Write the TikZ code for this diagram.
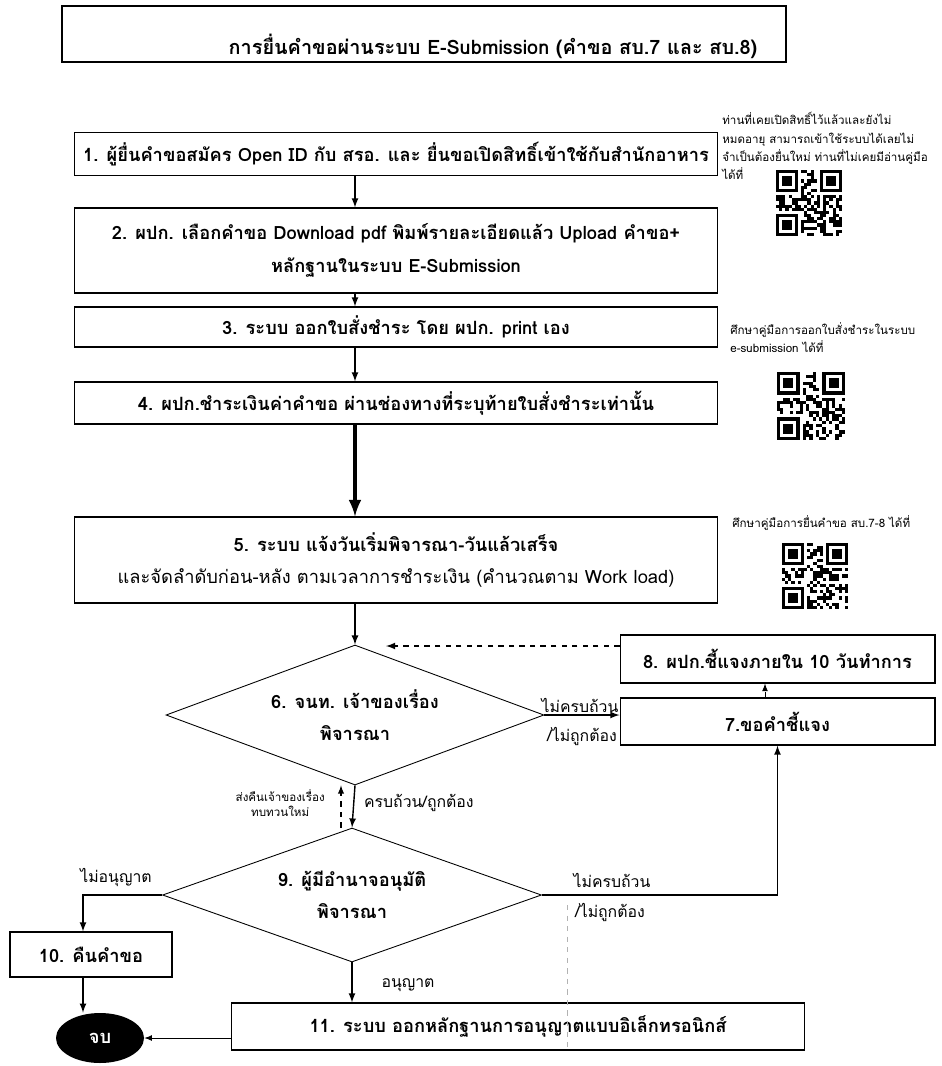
\documentclass[tikz,border=0pt]{standalone}
\usepackage{fontspec}
\newfontfamily\thaifont[Script=Thai]{Loma}
\usetikzlibrary{shapes.geometric}

% fake qr patch: x, y, size, seed
\newcommand{\qrpatch}[4]{%
 \pgfmathsetseed{#4}
 \begin{scope}[shift={(#1,#2)}]
 \pgfmathsetmacro{\qrc}{#3/21}
 \foreach \i in {0,...,20}{
  \foreach \j in {0,...,20}{
   \pgfmathtruncatemacro{\qrbit}{rnd>0.5}
   \ifnum\qrbit=1 \fill (\i*\qrc,\j*\qrc) rectangle ++(\qrc,\qrc);\fi
  }
 }
 \foreach \fx/\fy/\wx/\wy in {0/0/0/0,14/0/13/0,0/14/0/13}{
  \fill[white] (\wx*\qrc,\wy*\qrc) rectangle ++(8*\qrc,8*\qrc);
  \fill (\fx*\qrc,\fy*\qrc) rectangle ++(7*\qrc,7*\qrc);
  \fill[white] ({(\fx+1)*\qrc},{(\fy+1)*\qrc}) rectangle ++(5*\qrc,5*\qrc);
  \fill ({(\fx+2)*\qrc},{(\fy+2)*\qrc}) rectangle ++(3*\qrc,3*\qrc);
 }
 \end{scope}
}

\begin{document}
\begin{tikzpicture}[x=0.02cm,y=-0.02cm,
	stepbox/.style={draw,line width=0.6pt,align=center,inner sep=0pt,font=\thaifont\bfseries\fontsize{10.4}{18.5}\selectfont},
	decide/.style={draw,diamond,line width=0.5pt,align=center,inner sep=0pt,aspect=2.7,font=\thaifont\bfseries\fontsize{10.4}{18.5}\selectfont},
	lbl/.style={font=\thaifont\fontsize{9}{11}\selectfont,inner sep=1pt},
	note/.style={font=\thaifont\fontsize{6.6}{10.5}\selectfont,align=left,inner sep=0pt,anchor=north west},
	arr/.style={line width=0.8pt,-latex}]
	\useasboundingbox (0,0) rectangle (942,1066);
	%title
	\node[draw,line width=1pt,minimum width=14.48cm,minimum height=1.12cm,inner sep=0pt] (titlebox) at (424,34) {};
	\node[font=\thaifont\bfseries\fontsize{11.3}{14}\selectfont] (title) at (493,46) {การยื่นคำขอผ่านระบบ E-Submission (คำขอ สบ.7 และ สบ.8)};
	%steps
	\node[stepbox,minimum width=12.88cm,minimum height=0.86cm] (b1) at (396,154) {1. ผู้ยื่นคำขอสมัคร Open ID กับ สรอ. และ ยื่นขอเปิดสิทธิ์เข้าใช้กับสำนักอาหาร};
	\node[stepbox,minimum width=12.88cm,minimum height=1.7cm] (b2) at (396,250.5) {2. ผปก. เลือกคำขอ Download pdf พิมพ์รายละเอียดแล้ว Upload คำขอ+\\หลักฐานในระบบ E-Submission};
	\node[stepbox,minimum width=12.88cm,minimum height=0.8cm] (b3) at (396,327) {3. ระบบ ออกใบสั่งชำระ โดย ผปก. print เอง};
	\node[stepbox,minimum width=12.88cm,minimum height=0.84cm] (b4) at (396,403) {4. ผปก.ชำระเงินค่าคำขอ ผ่านช่องทางที่ระบุท้ายใบสั่งชำระเท่านั้น};
	\node[stepbox,minimum width=12.88cm,minimum height=1.72cm] (b5) at (396,560) {5. ระบบ แจ้งวันเริ่มพิจารณา-วันแล้วเสร็จ\\{\mdseries และจัดลำดับก่อน-หลัง ตามเวลาการชำระเงิน (คำนวณตาม Work load)}};
	\node[decide,minimum width=7.56cm,minimum height=2.8cm] (d6) at (355,715) {6. จนท. เจ้าของเรื่อง\\พิจารณา};
	\node[stepbox,minimum width=6.3cm,minimum height=0.96cm] (b8) at (777.5,659) {8. ผปก.ชี้แจงภายใน 10 วันทำการ};
	\node[stepbox,minimum width=6.3cm,minimum height=0.94cm] (b7) at (777.5,721.5) {7.ขอคำชี้แจง};
	\node[decide,minimum width=7.58cm,minimum height=2.68cm] (d9) at (352,895) {9. ผู้มีอำนาจอนุมัติ\\พิจารณา};
	\node[stepbox,minimum width=3.24cm,minimum height=0.9cm] (b10) at (91,954.5) {10. คืนคำขอ};
	\node[stepbox,minimum width=11.48cm,minimum height=0.94cm] (b11) at (518,1026.5) {11. ระบบ ออกหลักฐานการอนุญาตแบบอิเล็กทรอนิกส์};
	\node[ellipse,fill=black,text=white,minimum width=1.76cm,minimum height=1cm,inner sep=0pt,font=\thaifont\bfseries\fontsize{10.4}{13}\selectfont] (fin) at (100,1038) {จบ};
	%main flow
	\coordinate (col) at (355,0);
	\draw[arr] (b1.south -| col) -- (b2.north -| col);
	\draw[arr] (b2.south -| col) -- (b3.north -| col);
	\draw[arr] (b3.south -| col) -- (b4.north -| col);
	\draw[line width=2.2pt,-latex] (b4.south -| col) -- (b5.north -| col);
	\draw[arr] (b5.south -| col) -- (d6.north);
	%clarify loop
	\draw[arr] (d6.east) -- (d6.east -| b7.west);
	\node[lbl] (n6a) at (580,705) {ไม่ครบถ้วน};
	\node[lbl] (n6b) at (582,736) {/ไม่ถูกต้อง};
	\coordinate (ask) at (765,0);
	\draw[line width=0.5pt,densely dashed,-latex] (b7.north -| ask) -- (b8.south -| ask);
	\coordinate (back) at (386,646);
	\draw[arr,dashed] (back -| b8.west) -- (back);
	%between 6 and 9
	\draw[arr] (d6.south) -- (d9.north);
	\node[lbl,anchor=west] (n6c) at (362,803) {ครบถ้วน/ถูกต้อง};
	\coordinate (ret) at (341,0);
	\draw[line width=0.6pt,dashed,-latex] (ret |- d9.north) -- (ret |- d6.south);
	\node[font=\thaifont\fontsize{6.6}{9}\selectfont,align=center,anchor=east] (retlbl) at (331,803) {ส่งคืนเจ้าของเรื่อง\\ทบทวนใหม่};
	%decision 9
	\coordinate (rej) at (83,0);
	\draw[arr] (d9.west) -- (d9.west -| rej) -- (rej |- b10.north);
	\node[lbl] (n9c) at (116,877) {ไม่อนุญาต};
	\draw[arr] (d9.east) -| (b7.south);
	\node[lbl] (n9a) at (612,880) {ไม่ครบถ้วน};
	\node[lbl] (n9b) at (610,912) {/ไม่ถูกต้อง};
	\draw[arr] (d9.south) -- (d9.south |- b11.north);
	\node[lbl] (n9d) at (408,985) {อนุญาต};
	%end
	\draw[arr] (b10.south -| rej) -- (rej |- fin.north);
	\draw[line width=0.5pt,-latex] (fin.east -| b11.west) -- (fin.east);
	\draw[gray!60,dashed,line width=0.4pt] (567,905) -- (567,1050);
	%notes
	\node[note] (note1) at (722,112) {ท่านที่เคยเปิดสิทธิ์ไว้แล้วและยังไม่\\หมดอายุ สามารถเข้าใช้ระบบได้เลยไม่\\จำเป็นต้องยื่นใหม่ ท่านที่ไม่เคยมีอ่านคู่มือ\\ได้ที่};
	\qrpatch{776}{170}{66}{3}
	\node[note] (note2) at (730,322) {ศึกษาคู่มือการออกใบสั่งชำระในระบบ\\e-submission ได้ที่};
	\qrpatch{777}{372}{68}{5}
	\node[note] (note3) at (732,515) {ศึกษาคู่มือการยื่นคำขอ สบ.7-8 ได้ที่};
	\qrpatch{782}{543}{66}{7}
\end{tikzpicture}
\end{document}
